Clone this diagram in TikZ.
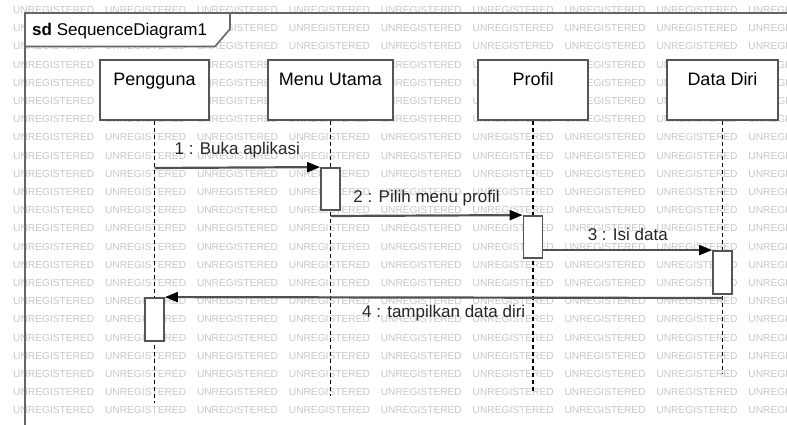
\documentclass[tikz,border=0pt]{standalone}
\usepackage{fontspec}
\setmainfont{Liberation Sans}
\usetikzlibrary{arrows.meta}
\definecolor{wm}{HTML}{C8C8C8}
\definecolor{boxc}{HTML}{555555}
\definecolor{msgc}{HTML}{505050}
\definecolor{framec}{HTML}{666666}
\begin{document}
\begin{tikzpicture}[x=1pt,y=-1pt,
  wmark/.style={text=wm,font=\fontsize{10.2}{11}\selectfont,anchor=west,inner sep=0},
  head/.style={draw=boxc,line width=1.8pt,fill=white,inner sep=0,text height=26pt,text depth=34pt,font=\fontsize{18}{20}\selectfont},
  act/.style={draw=boxc,line width=1.8pt,fill=white,minimum width=19pt,inner sep=0},
  life/.style={line width=1.2pt,dash pattern=on 4pt off 3pt},
  msg/.style={draw=msgc,line width=2.2pt,-{Triangle[length=13pt,width=10pt,color=black]}},
  msglabel/.style={font=\fontsize{17}{19}\selectfont,text=black!85,inner sep=0}]
\useasboundingbox (0,0) rectangle (787,425);
\fill[white] (0,0) rectangle (787,425);
% watermark
\foreach \r in {0,...,22}{
  \foreach \c in {0,...,8}{
    \node[wmark] (wm-\r-\c) at (13+91.9*\c, 10+18.2*\r) {UNREGISTERED};
  }
}
% frame
\draw[framec,line width=1.6pt,fill=white] (25,13) -- (230,13) -- (230,29) -- (215,46.5) -- (25,46.5) -- cycle;
\draw[framec,line width=2pt] (25,425) -- (25,13) -- (787,13);
\node[anchor=base west,inner sep=0,font=\fontsize{17}{19}\selectfont] (fl) at (32,36) {\textbf{sd} SequenceDiagram1};
% lifeline heads
\node[head,minimum width=109pt] (pg) at (154.5,90) {Pengguna};
\node[head,minimum width=125pt] (mu) at (330.5,90) {Menu Utama};
\node[head,minimum width=110pt] (pr) at (533,90) {Profil};
\node[head,minimum width=111pt] (dd) at (722.5,90) {Data Diri};
% lifelines
\coordinate (pgEnd) at (154.5,403);
\coordinate (muEnd) at (330.5,396);
\coordinate (prEnd) at (533,393);
\coordinate (ddEnd) at (722.5,373);
\draw[life] (pg.south) -- (pgEnd);
\draw[life] (mu.south) -- (muEnd);
\draw[life] (pr.south) -- (prEnd);
\draw[life] (dd.south) -- (ddEnd);
% activations
\node[act,minimum height=42pt] (a1) at (330.5,189) {};
\node[act,minimum height=42pt] (a2) at (533,237) {};
\node[act,minimum height=43pt] (a3) at (722.5,272.5) {};
\node[act,minimum height=43pt] (a4) at (154.5,319.5) {};
% messages
\coordinate (m1s) at (154.5,168);
\draw[msg] (m1s) -- (a1.north west) node[midway,above=8pt,msglabel] (l1) {1 : Buka aplikasi};
\coordinate (m2s) at (330.5,216);
\draw[msg] (m2s) -- (a2.north west) node[midway,above=8pt,msglabel] (l2) {2 : Pilih menu profil};
\draw[msg] (a2.east |- a3.north) -- (a3.north west) node[midway,above=8pt,msglabel] (l3) {3 : Isi data};
\coordinate (m4s) at (722.5,298);
\draw[msg] (m4s) -- (a4.north east) node[midway,below=7pt,msglabel] (l4) {4 : tampilkan data diri};
\end{tikzpicture}
\end{document}
